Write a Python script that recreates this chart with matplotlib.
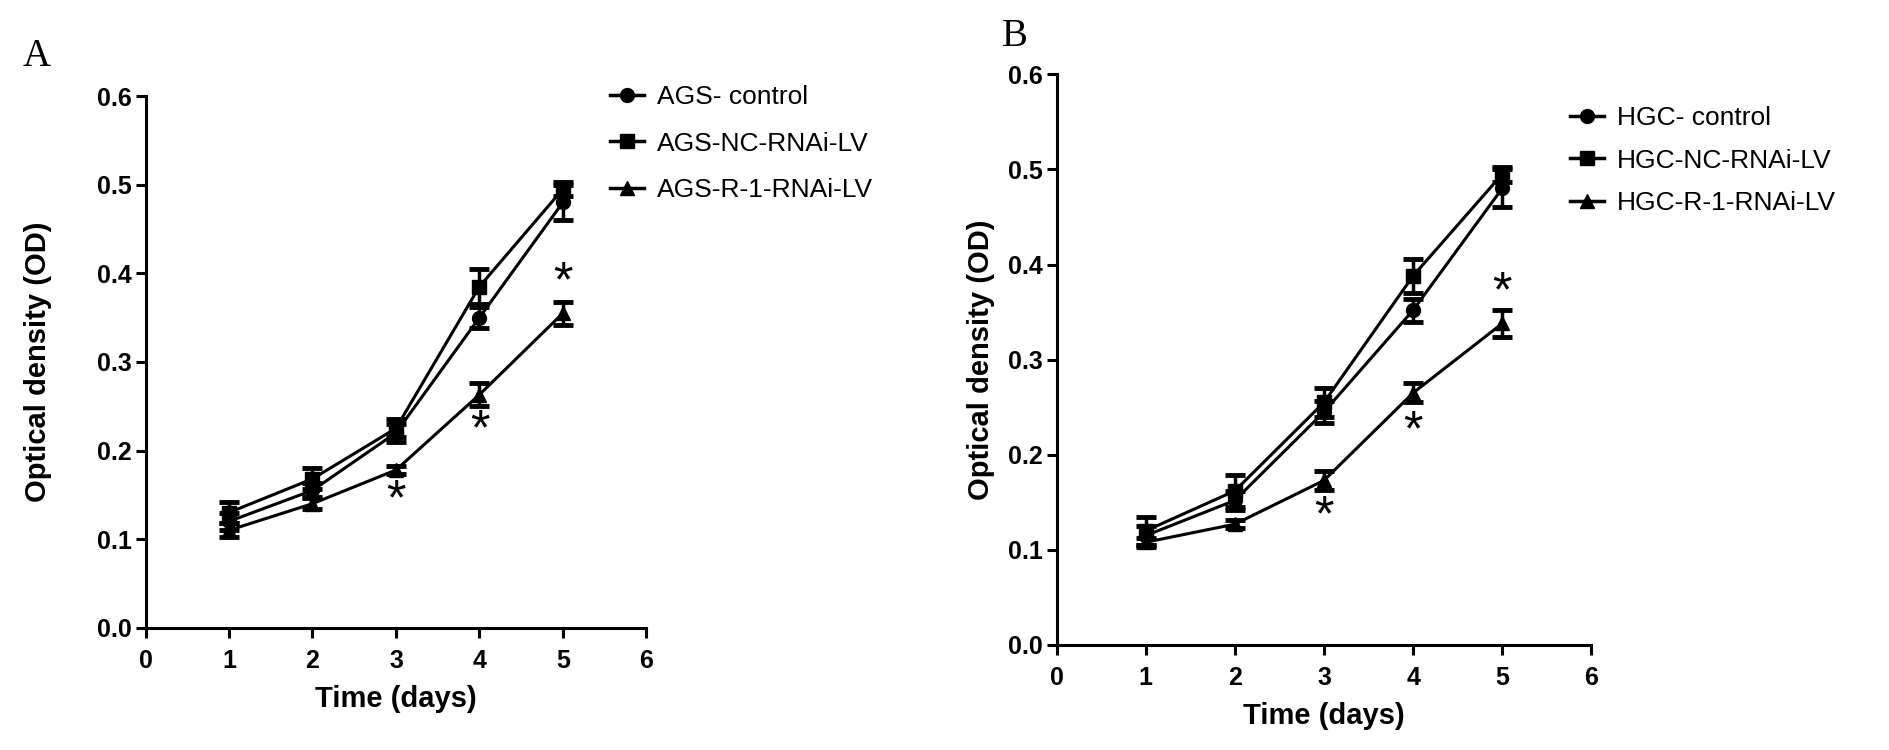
import matplotlib
matplotlib.use('Agg')
import matplotlib.pyplot as plt
from matplotlib.lines import Line2D

plt.rcParams['font.family'] = ['Liberation Sans', 'DejaVu Sans']

days = [1, 2, 3, 4, 5]

# panel A (AGS)
ags_ctrl = [0.120, 0.155, 0.220, 0.350, 0.480]
ags_ctrl_err = [0.010, 0.008, 0.010, 0.012, 0.020]
ags_nc = [0.130, 0.168, 0.225, 0.385, 0.495]
ags_nc_err = [0.012, 0.012, 0.010, 0.020, 0.008]
ags_r1 = [0.110, 0.140, 0.178, 0.263, 0.355]
ags_r1_err = [0.008, 0.006, 0.005, 0.013, 0.013]
ags_star_days = [3, 4, 5]
ags_star_y = [0.143, 0.222, 0.389]

# panel B (HGC)
hgc_ctrl = [0.115, 0.152, 0.245, 0.352, 0.480]
hgc_ctrl_err = [0.010, 0.010, 0.012, 0.012, 0.020]
hgc_nc = [0.120, 0.162, 0.255, 0.388, 0.495]
hgc_nc_err = [0.015, 0.017, 0.015, 0.018, 0.008]
hgc_r1 = [0.108, 0.127, 0.173, 0.265, 0.338]
hgc_r1_err = [0.005, 0.004, 0.010, 0.010, 0.014]
hgc_star_days = [3, 4, 5]
hgc_star_y = [0.134, 0.224, 0.370]

ags_labels = ['AGS- control', 'AGS-NC-RNAi-LV', 'AGS-R-1-RNAi-LV']
hgc_labels = ['HGC- control', 'HGC-NC-RNAi-LV', 'HGC-R-1-RNAi-LV']


def draw_panel(ax, series, errs, labels, star_x, star_y, leg_pos, ypad, lspace):
    markers = ['o', 's', '^']
    handles = []
    for vals, err, mk in zip(series, errs, markers):
        ax.errorbar(days, vals, yerr=err, color='black', lw=2.2,
                    marker=mk, ms=10, capsize=7, capthick=3.5,
                    elinewidth=2.5)
        handles.append(Line2D([], [], color='black', lw=2.5, marker=mk, ms=10))
    for sx, sy in zip(star_x, star_y):
        ax.text(sx, sy, '*', ha='center', va='center', fontsize=36)
    ax.set_xlim(0, 6)
    ax.set_ylim(0, 0.6)
    ax.set_xticks(range(7))
    ax.set_yticks([0.0, 0.1, 0.2, 0.3, 0.4, 0.5, 0.6])
    ax.set_yticklabels(['0.0', '0.1', '0.2', '0.3', '0.4', '0.5', '0.6'])
    for s in ['top', 'right']:
        ax.spines[s].set_visible(False)
    for s in ['left', 'bottom']:
        ax.spines[s].set_linewidth(2.2)
    ax.tick_params(direction='out', length=7, width=2.2, labelsize=18, pad=3)
    ax.tick_params(axis='x', pad=8)
    for t in ax.get_xticklabels() + ax.get_yticklabels():
        t.set_fontweight('bold')
    ax.set_xlabel('Time (days)', fontsize=21, fontweight='bold', labelpad=9)
    ax.set_ylabel('Optical density (OD)', fontsize=21, fontweight='bold', labelpad=ypad)
    ax.legend(handles=handles, labels=labels, loc='upper left',
              bbox_to_anchor=leg_pos, bbox_transform=ax.figure.transFigure,
              frameon=False, fontsize=19, handlelength=1.3,
              handletextpad=0.5, labelspacing=lspace)


fig = plt.figure(figsize=(18.9, 7.5), dpi=100)

axA = fig.add_axes([0.077, 0.163, 0.265, 0.709])
draw_panel(axA, [ags_ctrl, ags_nc, ags_r1],
           [ags_ctrl_err, ags_nc_err, ags_r1_err],
           ags_labels, ags_star_days, ags_star_y, (0.310, 0.918), 32, 0.85)

axB = fig.add_axes([0.559, 0.140, 0.283, 0.761])
draw_panel(axB, [hgc_ctrl, hgc_nc, hgc_r1],
           [hgc_ctrl_err, hgc_nc_err, hgc_r1_err],
           hgc_labels, hgc_star_days, hgc_star_y, (0.818, 0.890), 9, 0.7)

fig.text(0.012, 0.925, 'A', fontsize=28, family='Liberation Serif', va='center')
fig.text(0.530, 0.952, 'B', fontsize=28, family='Liberation Serif', va='center')

fig.savefig('out.png', dpi=100)
